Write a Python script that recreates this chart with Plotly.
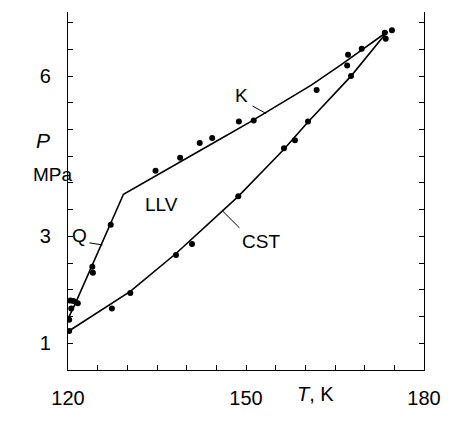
import plotly.graph_objects as go

# Upper branch (Q + K) measured points
upper_T = [120.2, 120.55, 120.4, 120.9, 121.65, 124.1, 124.2, 127.2, 134.75, 138.9,
           142.2, 144.3, 148.8, 151.3, 161.9, 167.05, 167.2, 169.5, 173.4, 173.55, 174.6]
upper_P = [1.44, 1.65, 1.80, 1.79, 1.75, 2.43, 2.32, 3.22, 4.23, 4.47,
           4.75, 4.84, 5.15, 5.17, 5.74, 6.20, 6.40, 6.51, 6.81, 6.70, 6.86]

# Lower branch (CST) measured points
lower_T = [120.2, 127.4, 130.5, 138.2, 140.9, 148.7, 156.4, 158.25, 160.45, 167.7]
lower_P = [1.23, 1.65, 1.94, 2.65, 2.86, 3.75, 4.65, 4.80, 5.15, 6.00]

# Q line + K curve
qk_T = [120.1, 121.3, 129.35, 134.0, 139.5, 145.0, 150.5, 156.0, 161.0, 166.0, 170.0, 173.8]
qk_P = [1.48, 1.76, 3.79, 4.08, 4.43, 4.78, 5.13, 5.49, 5.83, 6.21, 6.53, 6.83]

# CST curve
cst_T = [120.15, 127.4, 130.5, 138.2, 148.7, 156.4, 160.45, 167.7, 173.8]
cst_P = [1.23, 1.75, 1.97, 2.68, 3.75, 4.63, 5.14, 6.00, 6.83]

x_ticks = [120, 125, 130, 135, 140, 145, 150, 155, 160, 165, 170, 175, 180]
x_labels = ["120", "", "", "", "", "", "150", "", "", "", "", "", "180"]
y_ticks = [1, 1.5, 2, 2.5, 3, 3.5, 4, 4.5, 5, 5.5, 6, 6.5, 7]
y_labels = ["1", "", "", "", "3", "", "", "", "", "", "6", "", ""]

FONT = "Liberation Sans"

fig = go.Figure()
fig.add_trace(go.Scatter(x=qk_T, y=qk_P, mode="lines",
                         line=dict(color="black", width=1.6), showlegend=False))
fig.add_trace(go.Scatter(x=cst_T, y=cst_P, mode="lines",
                         line=dict(color="black", width=1.6), showlegend=False))
fig.add_trace(go.Scatter(x=upper_T, y=upper_P, mode="markers",
                         marker=dict(color="black", size=6), showlegend=False))
fig.add_trace(go.Scatter(x=lower_T, y=lower_P, mode="markers",
                         marker=dict(color="black", size=6), showlegend=False))

annots = []
# curve labels with leader lines
labels = [
    ("K", 149.2, 5.63, 151.1, 5.44, 153.4, 5.30),
    ("Q", 121.9, 3.02, 123.6, 2.88, 125.8, 2.84),
    ("CST", 152.5, 2.91, 148.9, 3.16, 146.1, 3.47),
]
for txt, tx, ty, x0, y0, x1, y1 in labels:
    annots.append(dict(x=tx, y=ty, xref="x", yref="y", text=txt, showarrow=False,
                       font=dict(family=FONT, size=19, color="black")))
    fig.add_shape(type="line", x0=x0, y0=y0, x1=x1, y1=y1,
                  line=dict(color="black", width=1))
annots.append(dict(x=135.7, y=3.6, xref="x", yref="y", text="LLV", showarrow=False,
                   font=dict(family=FONT, size=19, color="black")))

# axis titles placed in pixel-derived paper coords
W, H = 453 - 68 - 21, 421 - 12 - 47
def px(xp, yp):
    return (xp - 68) / W, (421 - 47 - yp) / H

for txt, (xp, yp), size in [("<i>P</i>", (33, 142), 21), ("MPa", (30, 176), 19),
                            ("<i>T</i>, K", (342, 411), 20)]:
    ax, ay = px(xp, yp)
    annots.append(dict(x=ax, y=ay, xref="paper", yref="paper", text=txt,
                       showarrow=False, font=dict(family=FONT, size=size, color="black")))

fig.update_layout(
    width=453, height=421,
    margin=dict(l=68, r=21, t=12, b=47),
    paper_bgcolor="white", plot_bgcolor="white",
    font=dict(family=FONT, size=20, color="black"),
    annotations=annots,
    xaxis=dict(range=[120, 180], tickvals=x_ticks, ticktext=x_labels,
               ticks="inside", ticklen=5, tickcolor="black", showgrid=False,
               zeroline=False, showline=True, linecolor="black", linewidth=1.2,
               mirror=False, ticklabelstandoff=10),
    yaxis=dict(range=[0.5, 7.2], tickvals=y_ticks, ticktext=y_labels,
               ticks="inside", ticklen=5, tickcolor="black", showgrid=False,
               zeroline=False, showline=True, linecolor="black", linewidth=1.2,
               mirror="ticks", ticklabelstandoff=12),
)

fig.write_html("out.html", config={"displayModeBar": False})
